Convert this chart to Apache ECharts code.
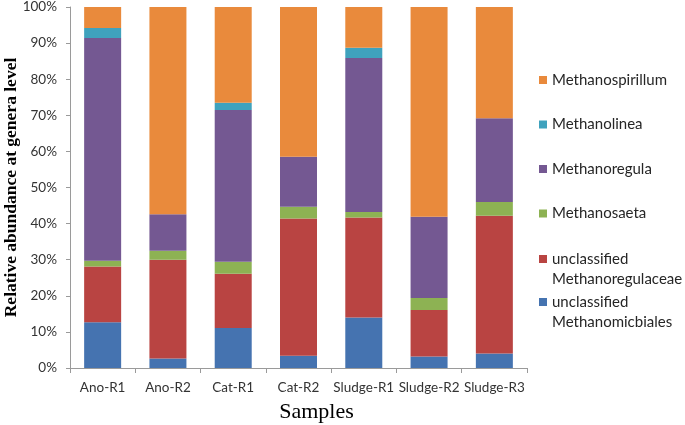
<!DOCTYPE html>
<html><head><meta charset="utf-8">
<script src="https://cdn.jsdelivr.net/npm/echarts@6/dist/echarts.min.js"></script>
<style>html,body{margin:0;padding:0;background:#fff}#c{width:685px;height:425px}</style>
</head><body><div id="c"></div>
<script>
const categories = ['Ano-R1','Ano-R2','Cat-R1','Cat-R2','Sludge-R1','Sludge-R2','Sludge-R3'];
const seriesNames = ['unclassified\nMethanomicbiales','unclassified\nMethanoregulaceae','Methanosaeta','Methanoregula','Methanolinea','Methanospirillum'];
const uMethanomicbiales = [12.7, 2.6, 11.1, 3.4, 14.0, 3.2, 4.0];
const uMethanoregulaceae = [15.4, 27.4, 15.0, 38.0, 27.7, 12.9, 38.2];
const methanosaeta = [1.6, 2.5, 3.3, 3.3, 1.5, 3.3, 3.8];
const methanoregula = [61.7, 10.1, 42.1, 13.8, 42.7, 22.5, 23.2];
const methanolinea = [2.8, 0, 2.0, 0, 2.8, 0, 0];
const methanospirillum = [5.8, 57.4, 26.5, 41.5, 11.3, 58.1, 30.8];
const yTicks = [0,10,20,30,40,50,60,70,80,90,100];
const colors = ['#4573b0','#b94442','#8db253','#745892','#3fa2bd','#e98a3c'];
const values = [uMethanomicbiales, uMethanoregulaceae, methanosaeta, methanoregula, methanolinea, methanospirillum];

const SANS = 'Lato, Carlito, Liberation Sans, Arial, sans-serif';
const chart = echarts.init(document.getElementById('c'), null, {renderer:'canvas'});
const legendTops = [80, 124.5, 169, 213.5, 259, 302];
const legendOrder = [5,4,3,2,1,0];
const legends = legendOrder.map((si, i) => {
  const multi = seriesNames[si].indexOf('\n') >= 0;
  return {
    data: [seriesNames[si]],
    left: 539,
    top: legendTops[i] - (multi ? 30 : 10),
    padding: 0,
    itemWidth: 8, itemHeight: 8,
    icon: 'rect',
    selectedMode: false,
    itemGap: 5,
    formatter: name => multi ? '\n' + name : name,
    textStyle: {
      fontFamily: SANS, fontSize: 15, color: '#262626',
      lineHeight: 20
    }
  };
});
chart.setOption({
  animation: false,
  color: colors,
  grid: {left: 70, right: 158, top: 7, bottom: 57, containLabel: false, outerBoundsMode: 'none'},
  legend: legends,
  xAxis: {
    type: 'category', data: categories,
    name: 'Samples', nameLocation: 'middle', nameGap: 33, nameMoveOverlap: false,
    nameTextStyle: {fontFamily: 'Liberation Serif, Times New Roman, serif', fontSize: 22, color: '#000', padding: [0,0,0,36]},
    axisLine: {lineStyle: {color: '#9a9a9a'}},
    axisTick: {show: true, length: 5, lineStyle: {color: '#9a9a9a'}, alignWithLabel: false},
    axisLabel: {interval: 0, fontFamily: SANS, fontSize: 13.5, color: '#333', margin: 13}
  },
  yAxis: {
    type: 'value', min: 0, max: 100, interval: 10,
    name: 'Relative abundance at genera level', nameLocation: 'middle', nameGap: 50, nameMoveOverlap: false,
    nameTextStyle: {fontFamily: 'Liberation Serif, Times New Roman, serif', fontSize: 17.5, fontWeight: 'bold', color: '#000'},
    axisLine: {show: true, lineStyle: {color: '#9a9a9a'}},
    axisTick: {show: true, length: 4, lineStyle: {color: '#9a9a9a'}},
    splitLine: {show: false},
    axisLabel: {fontFamily: SANS, fontSize: 13.5, color: '#333', margin: 13,
      formatter: v => yTicks.indexOf(v) >= 0 ? v + '%' : ''}
  },
  series: seriesNames.map((n, i) => ({
    name: n, type: 'bar', stack: 'total', barWidth: 37,
    itemStyle: {color: colors[i]},
    data: values[i]
  }))
});
</script></body></html>
